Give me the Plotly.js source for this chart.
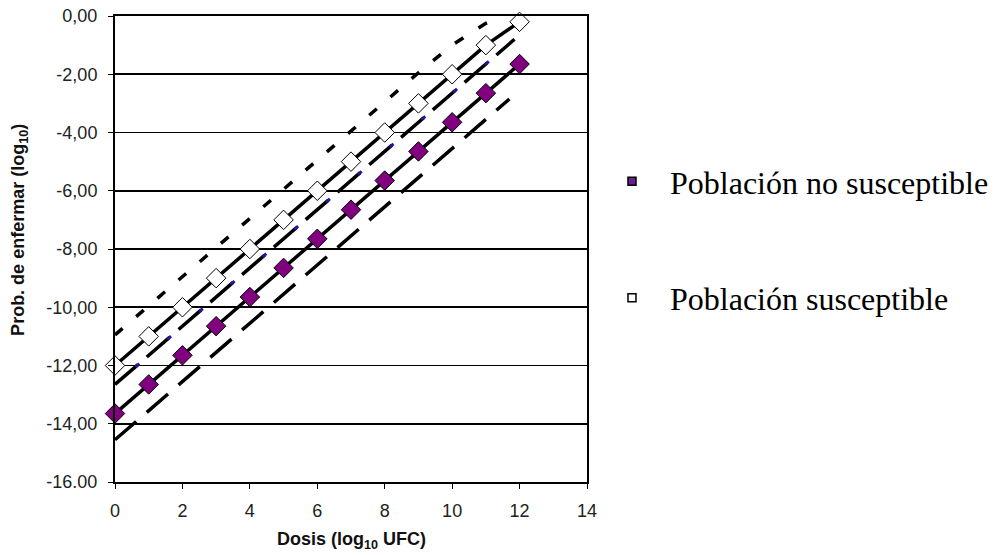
<!DOCTYPE html>
<html>
<head>
<meta charset="utf-8">
<script src="https://cdn.plot.ly/plotly-3.0.1.min.js"></script>
<style>html,body{margin:0;padding:0;background:#fff;}#chart{width:997px;height:555px;}</style>
</head>
<body>
<div id="chart"></div>
<script>
// Data
const dose = [0,1,2,3,4,5,6,7,8,9,10,11,12];
const suscept = [-12,-11,-10,-9,-8,-7,-6,-5,-4,-3,-2,-1,-0.2];
const noSuscept = [-13.65,-12.65,-11.65,-10.65,-9.65,-8.65,-7.65,-6.65,-5.65,-4.65,-3.65,-2.65,-1.65];

const upperDose = [0,1,2,3,4,5,6,7,8,9,10,11,11.3];
const upperBound = [-10.95,-9.95,-8.95,-7.95,-6.95,-5.95,-4.95,-3.95,-2.95,-1.95,-1.0,-0.25,-0.1];

const midDose = [0,1,2,3,4,5,6,7,8,9,10,11,11.85];
const midBound = [-12.65,-11.65,-10.65,-9.65,-8.65,-7.65,-6.65,-5.65,-4.65,-3.65,-2.65,-1.65,-0.8];

const lowDose = [0,1,2,3,4,5,6,7,8,9,10,11,11.7];
const lowBound = [-14.55,-13.55,-12.55,-11.55,-10.55,-9.55,-8.55,-7.55,-6.55,-5.55,-4.55,-3.55,-2.85];

const yTickVals = [0,-2,-4,-6,-8,-10,-12,-14,-16];
const yTickText = ['0,00','-2,00','-4,00','-6,00','-8,00','-10,00','-12,00','-14,00','-16.00'];
const xTickVals = [0,2,4,6,8,10,12,14];

const legendNames = ['Población no susceptible','Población susceptible'];
const xTitle = '<b>Dosis (log<sub>10</sub> UFC)</b>';
const yTitle = '<b>Prob. de enfermar (log<sub>10</sub>)</b>';

const sans = 'Liberation Sans, Arial, sans-serif';

const traces = [
  {x: upperDose, y: upperBound, mode:'lines', line:{color:'#000', width:3.5, dash:'10px,18px'}, showlegend:false, hoverinfo:'skip'},
  {x: midDose, y: midBound, mode:'lines', line:{color:'#000', width:3.5, dash:'30px,12px'}, showlegend:false, hoverinfo:'skip'},
  {x: midDose, y: midBound, mode:'lines', line:{color:'#1a1a9a', width:3, dash:'0px,27px,5px,10px'}, showlegend:false, hoverinfo:'skip'},
  {x: lowDose, y: lowBound, mode:'lines', line:{color:'#000', width:3.5, dash:'28px,14px'}, showlegend:false, hoverinfo:'skip'},
  {x: dose, y: suscept, mode:'lines+markers', line:{color:'#000', width:3.5},
   marker:{symbol:'diamond', size:15, color:'#fff', line:{color:'#000', width:1}}, cliponaxis:false, showlegend:false},
  {x: dose, y: noSuscept, mode:'lines+markers', line:{color:'#000', width:3.5},
   marker:{symbol:'diamond', size:15, color:'#800080', line:{color:'#000', width:1}}, cliponaxis:false, showlegend:false},
  {x:[null], y:[null], mode:'markers', name: legendNames[0], legendgroup:'a',
   marker:{symbol:'square', size:8, color:'#6a1f8f', line:{color:'#000', width:1.5}}},
  {x:[null], y:[null], mode:'markers', name: legendNames[1], legendgroup:'b',
   marker:{symbol:'square', size:8, color:'#fff', line:{color:'#000', width:1.5}}}
];

const layout = {
  width: 997, height: 555,
  margin: {l:115, r:410, t:16, b:73, autoexpand:false},
  paper_bgcolor:'#fff', plot_bgcolor:'#fff',
  showlegend: true,
  legend: {x: 1.0148, xanchor:'left', y: 0.704, yanchor:'top', itemwidth: 66, tracegroupgap: 72,
           font:{family:'Liberation Serif, Times New Roman, serif', size:32, color:'#000'},
           bgcolor:'rgba(0,0,0,0)'},
  xaxis: {range:[0,14], tickvals: xTickVals, showgrid:false, zeroline:false, automargin:false,
          showline:true, mirror:true, linecolor:'#000', linewidth:2,
          ticks:'outside', ticklen:5, tickcolor:'#000', tickwidth:1, ticklabelstandoff: 6,
          tickfont:{family: sans, size:18, color:'#222'}},
  yaxis: {range:[-16,0], tickvals: yTickVals, ticktext: yTickText, showgrid:true, gridcolor:'#000', gridwidth:1.6,
          zeroline:false, showline:true, mirror:true, linecolor:'#000', linewidth:2, automargin:false,
          ticks:'outside', ticklen:5, tickcolor:'#000', tickwidth:1, ticklabelstandoff: 7,
          tickfont:{family: sans, size:18, color:'#222'}},
  annotations: [
    {text: xTitle, xref:'paper', yref:'paper', x:0.5, y:-0.1266, xanchor:'center', yanchor:'middle',
     showarrow:false, font:{family: sans, size:18, color:'#111'}},
    {text: yTitle, xref:'paper', yref:'paper', x:-0.2013, y:0.541, xanchor:'center', yanchor:'middle',
     textangle:-90, showarrow:false, font:{family: sans, size:18, color:'#111'}}
  ]
};

Plotly.newPlot('chart', traces, layout, {displayModeBar:false, staticPlot:true});
</script>
</body>
</html>
